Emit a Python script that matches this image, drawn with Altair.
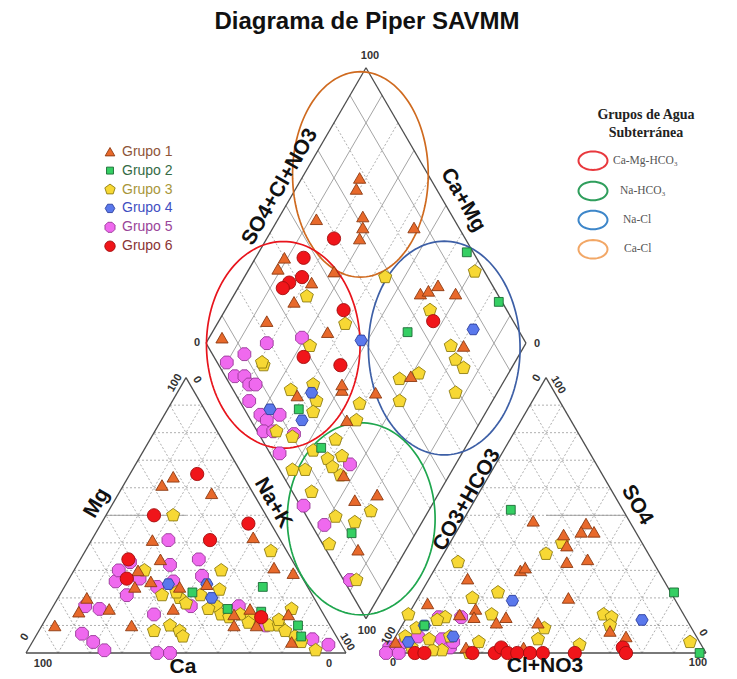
import math
import numpy as np
import pandas as pd
import altair as alt

# ---------------------------------------------------------------- data
GROUPS = ["Grupo 1", "Grupo 2", "Grupo 3", "Grupo 4", "Grupo 5", "Grupo 6"]

# Cation triangle: (Mg %, Na+K %)   Ca = 100 - Mg - (Na+K)
CAT_G1 = [(64, 14), (61, 12), (58, 29), (41, 19), (42, 50), (34, 25), (31, 62), (29, 69),
          (30, 20), (26, 26), (24, 22), (24, 36), (25, 44), (20, 9), (15, 9), (16, 18),
          (10, 4), (10, 28), (16, 38), (10, 60), (14, 58), (16, 62), (14, 75), (4, 81), (10, 67)]
CAT_G2 = [(24, 62), (22, 41), (16, 55), (15, 66), (10, 80), (6, 83)]
CAT_G3 = [(50, 21), (37, 58), (30, 46), (23, 49), (30, 22), (16, 75), (10, 40), (8, 44),
          (6, 46), (8, 36), (1, 90), (6, 81), (21, 32), (20, 38), (21, 44), (18, 41),
          (17, 51), (14, 54), (14, 60), (13, 64), (10, 71), (10, 74), (8, 77), (4, 84),
          (22, 36), (16, 49), (13, 57), (11, 64), (12, 73)]
CAT_G4 = [(25, 32), (20, 48), (25, 44)]
CAT_G5 = [(41, 24), (32, 29), (34, 37), (28, 41), (26, 15), (30, 14), (33, 16), (27, 22),
          (21, 21), (24, 29), (26, 33), (17, 10), (16, 15), (14, 33), (7, 14), (4, 19),
          (1, 24), (0, 41), (0, 45), (17, 43), (17, 58), (10, 70), (5, 87), (3, 93)]
CAT_G6 = [(65, 21), (50, 15), (41, 37), (47, 46), (34, 15), (27, 18), (13, 67)]

# Anion triangle: (SO4 %, Cl+NO3 %)   CO3+HCO3 = 100 - SO4 - Cl
AN_G1 = [(48, 22), (47, 39), (44, 39), (44, 43), (43, 34), (39, 37), (33, 40), (34, 46),
         (30, 27), (31, 28), (27, 12), (20, 47), (18, 4), (16, 20), (13, 21), (11, 29),
         (13, 31), (11, 42), (8, 66), (6, 72), (2, 42), (14, 16), (2, 24), (4, 1)]
AN_G2 = [(52, 13), (22, 79), (0, 98), (10, 7)]
AN_G3 = [(36, 32), (40, 35), (33, 6), (22, 24), (20, 17), (14, 0), (14, 26), (9, 45),
         (14, 61), (13, 64), (10, 65), (3, 59), (4, 93), (4, 27), (5, 45), (13, 12),
         (12, 10), (9, 5), (6, 3), (1, 17), (1, 14), (6, 17), (0, 26), (5, 11), (2, 7)]
AN_G4 = [(19, 30), (12, 74), (10, 7), (6, 18), (4, 5)]
AN_G5 = [(13, 17), (13, 10), (2, 0), (2, 2), (4, 4), (6, 7), (5, 15), (2, 19), (4, 19),
         (0, 0), (0, 4)]
AN_G6 = [(0, 9), (0, 12), (0, 27), (0, 34), (2, 35), (0, 38), (0, 41), (0, 45), (0, 49),
         (0, 59), (2, 73), (0, 75)]

# Diamond: (SO4+Cl+NO3 %, Ca+Mg %)
DIA_G1 = [(78, 82), (75, 81), (72, 74), (70, 72), (67, 71), (57, 88), (86, 56), (40, 91),
          (36, 91), (53, 73), (44, 78), (35, 80), (23, 85), (6, 96), (40, 64), (76, 42),
          (79, 40), (83, 38), (87, 31), (80, 19), (19, 62), (34, 49), (30, 42), (19, 33),
          (18, 25), (10, 15), (58, 30), (44, 38), (26, 19), (35, 50)]
DIA_G2 = [(98, 35), (99, 16), (65, 39), (17, 59), (17, 45), (11, 20)]
DIA_G3 = [(40, 77), (47, 60), (32, 67), (68, 56), (97, 29), (76, 36), (76, 23), (75, 19),
          (14, 78), (26, 59), (18, 65), (24, 55), (21, 54), (6, 62), (10, 56), (14, 47),
          (17, 41), (17, 38), (18, 34), (4, 50), (8, 46), (6, 40), (9, 28), (14, 21),
          (2, 25), (4, 10), (37, 41), (33, 39), (23, 42), (22, 37), (54, 33), (61, 28),
          (76, 15), (69, 13), (50, 29), (21, 18), (14, 79)]
DIA_G4 = [(86, 19), (49, 52), (8, 68), (16, 56), (24, 58)]
DIA_G5 = [(19, 81), (31, 71), (10, 86), (3, 90), (3, 85), (6, 82), (6, 79), (8, 77),
          (3, 76), (4, 70), (5, 67), (10, 64), (2, 66), (5, 63), (3, 57), (23, 33),
          (1, 40), (4, 30), (2, 12), (11, 56)]
DIA_G6 = [(59, 79), (46, 85), (42, 82), (37, 85), (34, 86), (49, 63), (75, 33), (28, 67),
          (38, 54)]

TICKS = [10, 20, 30, 40, 50, 60, 70, 80, 90]

# water-type ellipses (centre x, centre y, radius x, radius y) in diagram units
ELLIPSES = [("Ca-Cl", 104.5, 150.5, 21.2, 32.3, "#cf6a1f"),
            ("Ca-Mg-HCO3", 80.4, 96.9, 24.0, 32.5, "#e8141c"),
            ("Na-Cl", 130.7, 95.9, 23.7, 33.6, "#3d5fa6"),
            ("Na-HCO3", 104.75, 42.2, 23.1, 30.2, "#1fa64e")]

# ---------------------------------------------------------------- geometry
GAP = 12.5
R3 = math.sqrt(3) / 2
W, H = 720, 668
SX, SY = 3.2, 3.18          # px per diagram unit
X0, Y0 = 26, 653            # page position of the cation triangle's Ca corner
XS = alt.Scale(domain=[(8 - X0) / SX, (8 + W - X0) / SX], nice=False, zero=False)
YS = alt.Scale(domain=[(Y0 - 8 - H) / SY, (Y0 - 8) / SY], nice=False, zero=False)


def P(px, py):
    return (px - X0) / SX, (Y0 - py) / SY


def cat(mg, na):
    return na + mg / 2, mg * R3


def an(so4, cl):
    return 100 + GAP + cl + so4 / 2, so4 * R3


def dia(a, camg):
    n = 100 - camg
    return 50 + GAP / 2 + (a + n) / 2, (100 + GAP) * R3 + (a - n) * R3


def seg(p, q, kind):
    return dict(x=p[0], y=p[1], x2=q[0], y2=q[1], kind=kind)


segs = []
for k in TICKS:
    segs.append(seg(cat(k, 0), cat(k, 100 - k), "dash"))
    segs.append(seg(cat(0, k), cat(100 - k, k), "dash"))
    segs.append(seg(cat(0, 100 - k), cat(100 - k, 0), "dash"))
    segs.append(seg(an(k, 0), an(k, 100 - k), "dash"))
    segs.append(seg(an(0, k), an(100 - k, k), "dash"))
    segs.append(seg(an(0, 100 - k), an(100 - k, 0), "dash"))
    kd = "solid" if k % 20 == 10 else "dash"
    segs.append(seg(dia(k, 100), dia(k, 0), kd))
    segs.append(seg(dia(0, k), dia(100, k), kd))
segs.append(seg(cat(50, 0), cat(50, 25), "solid"))
segs.append(seg(an(50, 25), an(50, 50), "solid"))
# outlines
for a_, b_ in [(cat(0, 0), cat(0, 100)), (cat(0, 100), cat(100, 0)), (cat(100, 0), cat(0, 0)),
               (an(0, 0), an(0, 100)), (an(0, 100), an(100, 0)), (an(100, 0), an(0, 0)),
               (dia(0, 100), dia(100, 100)), (dia(100, 100), dia(100, 0)),
               (dia(100, 0), dia(0, 0)), (dia(0, 0), dia(0, 100))]:
    segs.append(seg(a_, b_, "frame"))
seg_df = pd.DataFrame(segs)


def rules(kind, **kw):
    return alt.Chart(seg_df[seg_df.kind == kind]).mark_rule(**kw).encode(
        x=alt.X("x:Q", scale=XS, axis=None), y=alt.Y("y:Q", scale=YS, axis=None),
        x2="x2:Q", y2="y2:Q")


grid_dash = rules("dash", color="#8c8c8c", strokeWidth=0.7, strokeDash=[2, 2])
grid_solid = rules("solid", color="#9a9a9a", strokeWidth=0.9)
frame = rules("frame", color="#4d4d4d", strokeWidth=1.3)

# ellipses
ell_rows = []
t = np.linspace(0, 2 * np.pi, 145)
for name, cx, cy, rx, ry, col in ELLIPSES:
    for i, tt in enumerate(t):
        ell_rows.append(dict(name=name, i=i, x=cx + rx * np.cos(tt), y=cy + ry * np.sin(tt), col=col))
ell = alt.Chart(pd.DataFrame(ell_rows)).mark_line(strokeWidth=1.7).encode(
    x=alt.X("x:Q", scale=XS, axis=None), y=alt.Y("y:Q", scale=YS, axis=None),
    order="i:Q", detail="name:N", color=alt.Color("col:N", scale=None))

# ---------------------------------------------------------------- markers
def poly(n, rot):
    pts = []
    for j in range(n):
        ang = math.radians(rot + 360 * j / n)
        pts.append(f"{math.cos(ang):.3f},{math.sin(ang):.3f}")
    return "M" + " L".join(pts) + " Z"


PENT = poly(5, -90)
HEXA = poly(6, 0)
OCTA = poly(8, 22.5)
SHAPES = ["triangle-up", "square", PENT, HEXA, OCTA, "circle"]
FILLS = ["#e8692b", "#35cf63", "#f7d834", "#5a78ec", "#ef69ee", "#f0151a"]
STROKES = ["#8c3a12", "#1b6b35", "#8f7d12", "#2c3f9e", "#963596", "#a30d0d"]
SIZES = [150, 78, 190, 150, 190, 175]
TXTCOL = ["#8e5538", "#356b45", "#a8963a", "#3f4fc2", "#9a4599", "#8a3434"]
ZORDER = [3, 4, 1, 2, 0, 5]

rows = []
sets = {"cat": [CAT_G1, CAT_G2, CAT_G3, CAT_G4, CAT_G5, CAT_G6],
        "an": [AN_G1, AN_G2, AN_G3, AN_G4, AN_G5, AN_G6],
        "dia": [DIA_G1, DIA_G2, DIA_G3, DIA_G4, DIA_G5, DIA_G6]}
for panel, lst in sets.items():
    for gi, pts in enumerate(lst):
        for a, b in pts:
            rows.append(dict(panel=panel, grupo=GROUPS[gi], a=a, b=b, z=ZORDER[gi],
                             shp=SHAPES[gi], fil=FILLS[gi], stk=STROKES[gi], sz=SIZES[gi]))
pts_df = pd.DataFrame(rows).sort_values("z", kind="stable")

G = GAP
xexpr = (f"datum.panel == 'cat' ? datum.b + datum.a / 2 : "
         f"(datum.panel == 'an' ? {100 + G} + datum.b + datum.a / 2 : "
         f"{50 + G / 2} + (datum.a + 100 - datum.b) / 2)")
yexpr = (f"datum.panel == 'dia' ? ({100 + G} + datum.a - (100 - datum.b)) * {R3} : datum.a * {R3}")

points = alt.Chart(pts_df).transform_calculate(px=xexpr, py=yexpr).mark_point(
    filled=True, opacity=1, strokeWidth=0.9).encode(
    x=alt.X("px:Q", scale=XS, axis=None), y=alt.Y("py:Q", scale=YS, axis=None),
    shape=alt.Shape("shp:N", scale=None), color=alt.Color("fil:N", scale=None),
    stroke=alt.Stroke("stk:N", scale=None), size=alt.Size("sz:Q", scale=None))

# ---------------------------------------------------------------- texts
def txt_layer(items, font="Liberation Sans", weight="normal", **kw):
    df = pd.DataFrame(items)
    return alt.Chart(df).mark_text(font=font, fontWeight=weight, baseline="middle", **kw).encode(
        x=alt.X("x:Q", scale=XS, axis=None), y=alt.Y("y:Q", scale=YS, axis=None),
        text="t:N", angle=alt.Angle("ang:Q", scale=None), size=alt.Size("fs:Q", scale=None),
        color=alt.Color("c:N", scale=None))


def item(t, px, py, ang=0, fs=11, c="#333333"):
    x, y = P(px, py)
    return dict(t=t, x=x, y=y, ang=ang, fs=fs, c=c)


ticks = [
    item("100", 175, 383, 300), item("0", 197, 380, 60), item("0", 25, 637, 300),
    item("100", 347, 642, 60), item("100", 43, 664), item("0", 329, 664),
    item("0", 537, 378, 300), item("100", 558, 385, 60), item("100", 389, 636, 300),
    item("0", 393, 663), item("0", 703, 633, 60), item("100", 698, 663),
    item("100", 370, 56), item("0", 197, 343), item("0", 537, 344), item("100", 367, 631),
]
tick_txt = txt_layer(ticks, weight="bold")

titles = [
    item("Mg", 97, 503, 300, 21, "#111"), item("Ca", 183, 667, 0, 21, "#111"),
    item("Na+K", 273, 503, 60, 21, "#111"), item("CO3+HCO3", 467, 500, 300, 21, "#111"),
    item("SO4", 637, 505, 60, 21, "#111"), item("Cl+NO3", 545, 666, 0, 21, "#111"),
    item("SO4+Cl+NO3", 280, 187, 300, 21, "#111"), item("Ca+Mg", 463, 200, 60, 21, "#111"),
    item("Diagrama de Piper SAVMM", 367, 22, 0, 24, "#111"),
]
title_txt = txt_layer(titles, weight="bold")

# left legend
leg_rows, leg_txt_items = [], []
for gi, g in enumerate(GROUPS):
    ly = 151.7 + gi * 18.9
    x, y = P(110, ly)
    leg_rows.append(dict(x=x, y=y, shp=SHAPES[gi], fil=FILLS[gi], stk=STROKES[gi],
                         sz=SIZES[gi] * 0.62))
    leg_txt_items.append(item(g, 122, ly, 0, 14, TXTCOL[gi]))
leg_pts = alt.Chart(pd.DataFrame(leg_rows)).mark_point(filled=True, opacity=1, strokeWidth=0.9).encode(
    x=alt.X("x:Q", scale=XS, axis=None), y=alt.Y("y:Q", scale=YS, axis=None),
    shape=alt.Shape("shp:N", scale=None), color=alt.Color("fil:N", scale=None),
    stroke=alt.Stroke("stk:N", scale=None), size=alt.Size("sz:Q", scale=None))
leg_txt = txt_layer(leg_txt_items, align="left")

# right legend (water types)
ELL_PATH = "M" + " L".join(f"{math.cos(a):.3f},{0.64 * math.sin(a):.3f}"
                           for a in np.linspace(0, 2 * np.pi, 40, endpoint=False)) + " Z"
wt_names = ["Ca-Mg-HCO₃", "Na-HCO₃", "Na-Cl", "Ca-Cl"]
wt_cols = ["#e8383d", "#2f9e5c", "#3d86c9", "#f2a766"]
wt_ys = [160.7, 191, 220, 249.3]
wt_tx = [613, 620, 623, 624]
wt_rows, wt_txt_items = [], []
for nme, col, yy, tx in zip(wt_names, wt_cols, wt_ys, wt_tx):
    x, y = P(593, yy)
    wt_rows.append(dict(x=x, y=y, c=col))
    wt_txt_items.append(item(nme, tx, yy, 0, 11.5, "#555555"))
wt_pts = alt.Chart(pd.DataFrame(wt_rows)).mark_point(
    shape=ELL_PATH, size=29 * 29, filled=False, strokeWidth=2, opacity=1).encode(
    x=alt.X("x:Q", scale=XS, axis=None), y=alt.Y("y:Q", scale=YS, axis=None),
    color=alt.Color("c:N", scale=None))
wt_txt = txt_layer(wt_txt_items, font="Liberation Serif", align="left")
wt_title = txt_layer([item("Grupos de Agua", 646, 115, 0, 14, "#222"),
                      item("Subterránea", 646, 133, 0, 14, "#222")],
                     font="Liberation Serif", weight="bold", align="center")

chart = alt.layer(
    grid_dash, grid_solid, frame, ell, points, tick_txt, title_txt,
    leg_pts, leg_txt, wt_pts, wt_txt, wt_title
).properties(
    width=W, height=H, padding=0, autosize=alt.AutoSizeParams(type="none"),
    background="white"
).configure_view(stroke=None)

chart.save("out.html", embed_options={"renderer": "svg", "actions": False})
